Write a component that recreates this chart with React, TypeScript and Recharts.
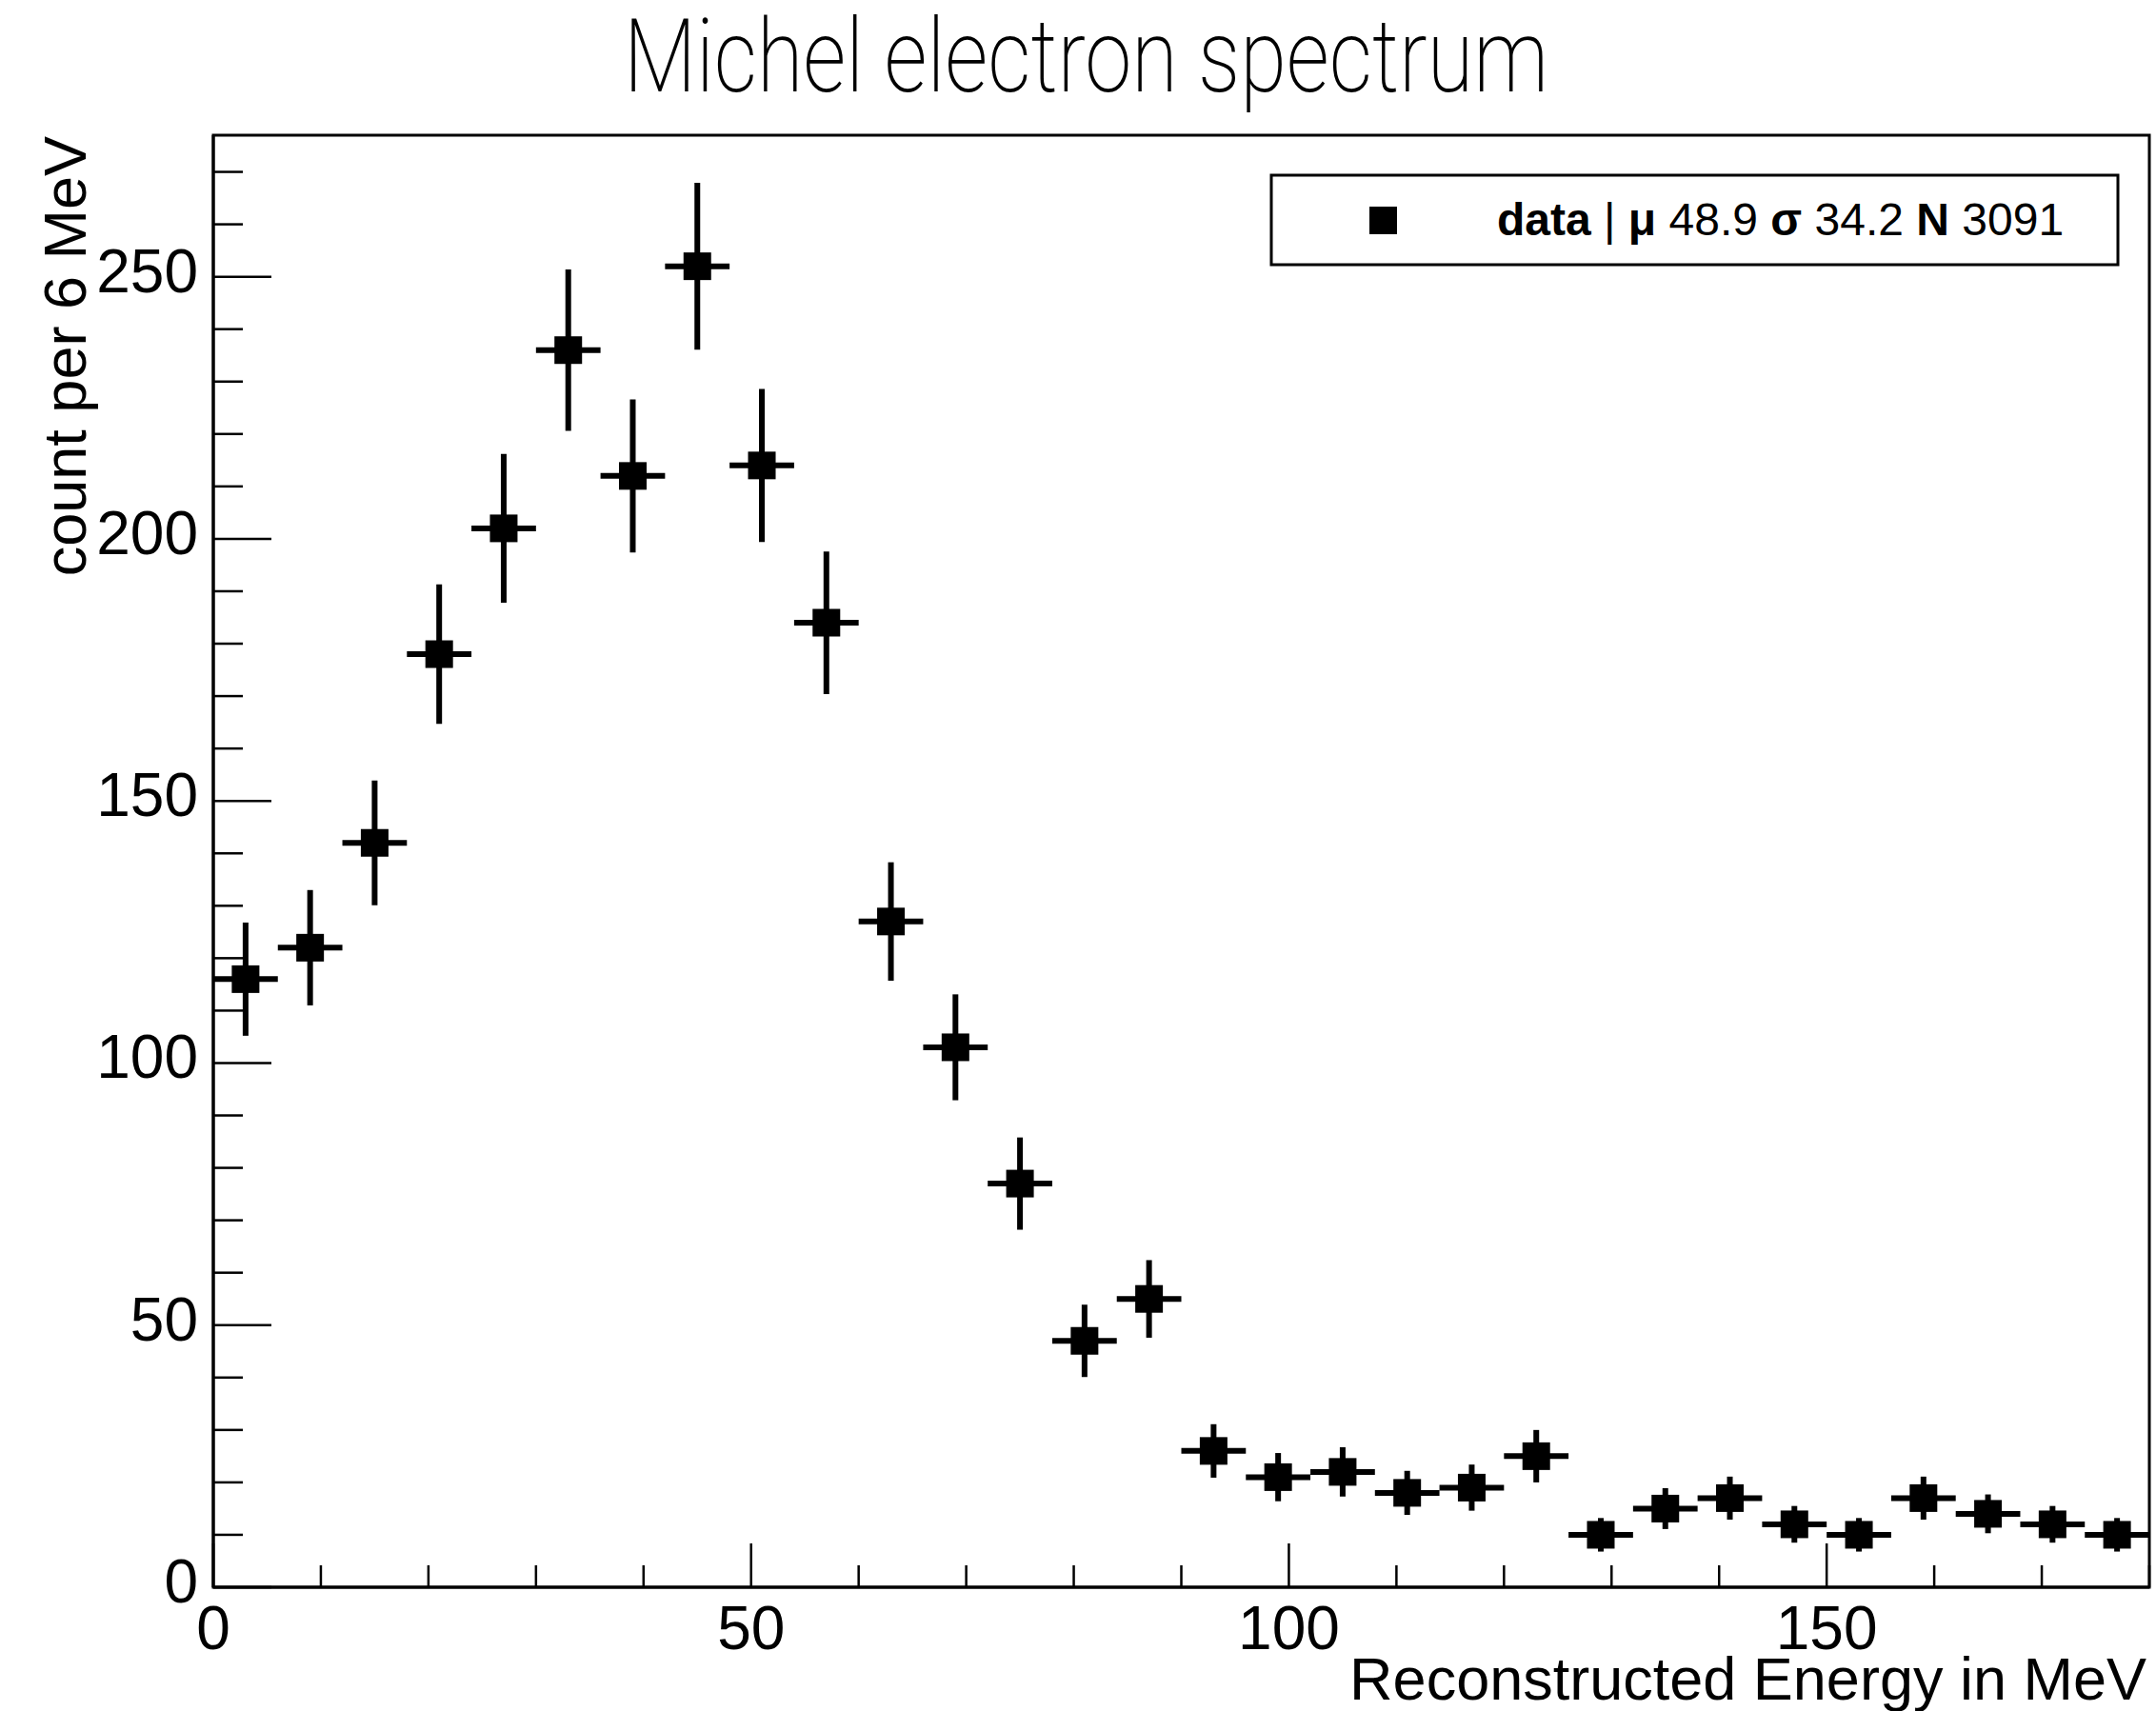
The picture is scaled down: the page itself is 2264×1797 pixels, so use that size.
import React from 'react';
import { ComposedChart, Scatter, ErrorBar, XAxis, YAxis, ReferenceArea } from 'recharts';

// bin centres (6 MeV bins from 0 to 180)
const BIN_CENTERS = [3, 9, 15, 21, 27, 33, 39, 45, 51, 57, 63, 69, 75, 81, 87, 93, 99, 105, 111, 117, 123, 129, 135, 141, 147, 153, 159, 165, 171, 177];
const COUNTS = [116, 122, 142, 178, 202, 236, 212, 252, 214, 184, 127, 103, 77, 47, 55, 26, 21, 22, 18, 19, 25, 10, 15, 17, 12, 10, 17, 14, 12, 10];
const ERRORS = [10.8, 11.0, 11.9, 13.3, 14.2, 15.4, 14.6, 15.9, 14.6, 13.6, 11.3, 10.1, 8.8, 6.9, 7.4, 5.1, 4.6, 4.7, 4.2, 4.4, 5.0, 3.2, 3.9, 4.1, 3.5, 3.2, 4.1, 3.7, 3.5, 3.2];
const BIN_HALF_WIDTH = 3;

const X_TICKS = [0, 10, 20, 30, 40, 50, 60, 70, 80, 90, 100, 110, 120, 130, 140, 150, 160, 170, 180];
const X_LABELS = [0, 50, 100, 150];
const Y_TICKS = [0, 10, 20, 30, 40, 50, 60, 70, 80, 90, 100, 110, 120, 130, 140, 150, 160, 170, 180, 190, 200, 210, 220, 230, 240, 250, 260, 270];
const Y_LABELS = [0, 50, 100, 150, 200, 250];

const STAT_MEAN = '48.9';
const STAT_RMS = '34.2';
const STAT_N = '3091';

const data = BIN_CENTERS.map((x, i) => ({ x, y: COUNTS[i], ey: ERRORS[i], ex: BIN_HALF_WIDTH }));

const FONT = '"Liberation Sans", Arial, Helvetica, sans-serif';

const XTick = (props: any) => {
  const { x, y, payload } = props;
  const major = X_LABELS.includes(payload.value);
  return (
    <g>
      <line x1={x} x2={x} y1={y} y2={y - (major ? 46 : 23)} stroke="#000" strokeWidth={2.5} />
      {major && (
        <text x={x} y={y + 65} textAnchor="middle" fontSize={64} fontFamily={FONT} fill="#000">
          {payload.value}
        </text>
      )}
    </g>
  );
};

const YTick = (props: any) => {
  const { x, y, payload } = props;
  const major = Y_LABELS.includes(payload.value);
  return (
    <g>
      <line x1={x} x2={x + (major ? 61 : 31)} y1={y} y2={y} stroke="#000" strokeWidth={2.5} />
      {major && (
        <text x={x - 16} y={y + 16} textAnchor="end" fontSize={64} fontFamily={FONT} fill="#000">
          {payload.value}
        </text>
      )}
    </g>
  );
};

const SquareMarker = (props: any) => {
  const { cx, cy } = props;
  return <rect x={cx - 14.5} y={cy - 14.5} width={29} height={29} fill="#000" />;
};

export default function App() {
  return (
    <div style={{ position: 'absolute', left: 0, top: 0, width: 2264, height: 1797, background: '#fff' }}>
      <ComposedChart
        width={2264}
        height={1797}
        data={data}
        margin={{ top: 142, right: 7, bottom: 0, left: 0 }}
      >
        <XAxis
          type="number"
          dataKey="x"
          domain={[0, 180]}
          ticks={X_TICKS}
          interval={0}
          height={130}
          tickSize={0}
          tickMargin={0}
          tickLine={false}
          axisLine={{ stroke: '#000', strokeWidth: 3 }}
          tick={<XTick />}
          allowDataOverflow
        />
        <YAxis
          type="number"
          dataKey="y"
          domain={[0, 277]}
          ticks={Y_TICKS}
          interval={0}
          width={224}
          tickSize={0}
          tickMargin={0}
          tickLine={false}
          axisLine={{ stroke: '#000', strokeWidth: 3 }}
          tick={<YTick />}
          allowDataOverflow
        />
        <ReferenceArea x1={0} x2={180} y1={0} y2={277} fill="none" stroke="#000" strokeWidth={3} ifOverflow="visible" />
        <Scatter data={data} fill="#000" shape={<SquareMarker />} isAnimationActive={false}>
          <ErrorBar dataKey="ey" direction="y" width={0} stroke="#000" strokeWidth={6} isAnimationActive={false} />
          <ErrorBar dataKey="ex" direction="x" width={0} stroke="#000" strokeWidth={6} isAnimationActive={false} />
        </Scatter>
      </ComposedChart>
      <svg
        width={2264}
        height={1797}
        style={{ position: 'absolute', left: 0, top: 0, pointerEvents: 'none' }}
      >
        <text
          x={655}
          y={96}
          fontSize={108}
          fontFamily='Roboto, "Liberation Sans", sans-serif'
          fontWeight={200}
          textLength={971}
          lengthAdjust="spacingAndGlyphs"
          fill="#000"
        >
          Michel electron spectrum
        </text>
        <text
          transform="translate(90,143) rotate(-90)"
          textAnchor="end"
          fontSize={63}
          fontFamily={FONT}
          fill="#000"
        >
          count per 6 MeV
        </text>
        <text x={2254} y={1785} textAnchor="end" fontSize={63} fontFamily={FONT} fill="#000">
          Reconstructed Energy in MeV
        </text>
        <rect x={1335} y={184} width={889} height={94} fill="#fff" stroke="#000" strokeWidth={3} />
        <rect x={1438} y={217} width={29} height={29} fill="#000" />
        <text x={1572} y={247} fontSize={48} fontFamily={FONT} fill="#000">
          <tspan fontWeight="bold">data</tspan>
          <tspan> | </tspan>
          <tspan fontWeight="bold">μ</tspan>
          <tspan> {STAT_MEAN} </tspan>
          <tspan fontWeight="bold">σ</tspan>
          <tspan> {STAT_RMS} </tspan>
          <tspan fontWeight="bold">N</tspan>
          <tspan> {STAT_N}</tspan>
        </text>
      </svg>
    </div>
  );
}
